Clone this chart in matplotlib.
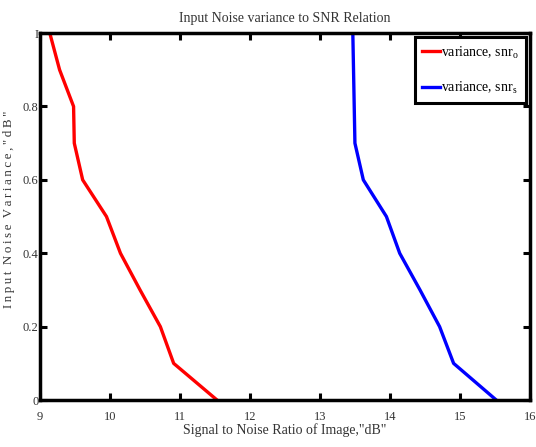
import matplotlib
matplotlib.use('Agg')
import matplotlib.pyplot as plt

# noise variance levels (y axis)
variance = [1.0, 0.9, 0.8, 0.7, 0.6, 0.5, 0.4, 0.3, 0.2, 0.1, 0.0]
# SNR, dB
snr_o = [9.14, 9.28, 9.48, 9.49, 9.61, 9.95, 10.15, 10.43, 10.72, 10.91, 11.53]
snr_s = [13.47, 13.48, 13.49, 13.50, 13.62, 13.95, 14.14, 14.43, 14.71, 14.91, 15.52]

xticks = [9, 10, 11, 12, 13, 14, 15, 16]
yticks = [0, 0.2, 0.4, 0.6, 0.8, 1]
ytick_labels = ['0', '0.2', '0.4', '0.6', '0.8', 'I']

plt.rcParams['font.family'] = ['Liberation Serif', 'DejaVu Serif']
plt.rcParams['mathtext.fontset'] = 'custom'
plt.rcParams['mathtext.rm'] = 'Liberation Serif'

fig = plt.figure(figsize=(5.36, 4.47), dpi=100)
ax = fig.add_axes([0.0746, 0.105, 0.914, 0.821])

ax.plot(snr_o, variance, color='red', lw=2.4, label='variance, snr$_{\\mathregular{o}}$')
ax.plot(snr_s, variance, color='blue', lw=2.4, label='variance, snr$_{\\mathregular{s}}$')

ax.set_xlim(9, 16)
ax.set_ylim(0, 1)
ax.set_xticks(xticks)
ax.set_yticks(yticks)
ax.set_yticklabels(ytick_labels)
ax.tick_params(direction='in', length=5, width=2.2, top=True, right=True,
               labelsize=9, colors='black', labelcolor='#333333')
ax.tick_params(axis='x', pad=8)
ax.tick_params(axis='y', pad=1)
for s in ax.spines.values():
    s.set_linewidth(2.5)

ax.set_title('Input Noise variance to SNR Relation', fontsize=10, color='#333333', pad=8)
ax.set_xlabel('Signal to Noise Ratio of Image,"dB"', fontsize=10, color='#333333', labelpad=0)
ylab = '  '.join('\u2009'.join(w) for w in 'Input Noise Variance,"dB"'.split(' '))
ax.set_ylabel(ylab, fontsize=9.3, color='#333333', labelpad=0)
ax.yaxis.set_label_coords(-0.052, 0.52)

leg = ax.legend(loc='upper right', fontsize=10, handlelength=1.3, handletextpad=0.1,
                borderpad=0.5, labelspacing=1.4, fancybox=False, framealpha=1,
                edgecolor='black', borderaxespad=0.3)
leg.get_frame().set_linewidth(2.2)

fig.savefig('out.png', dpi=100)
